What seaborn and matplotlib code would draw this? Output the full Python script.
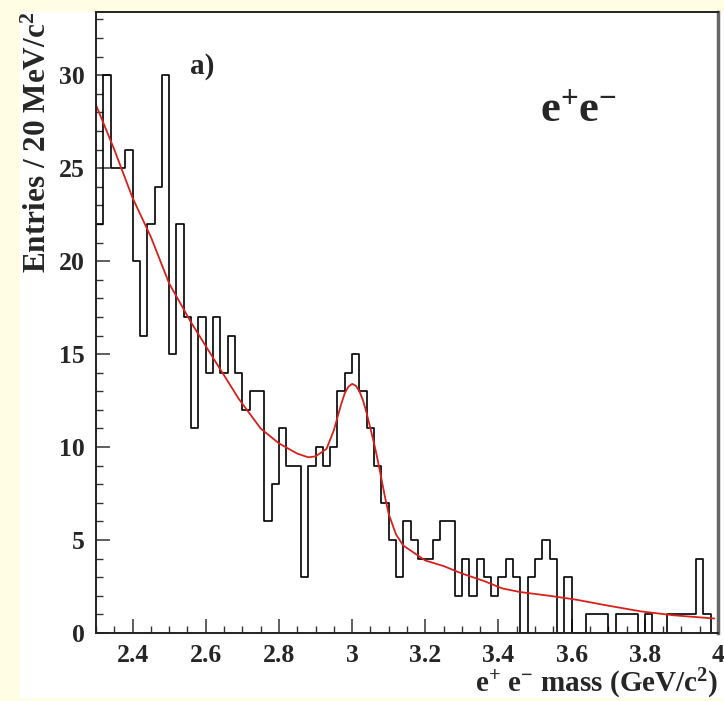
import numpy as np
import pandas as pd
import matplotlib
matplotlib.use('Agg')
import matplotlib.pyplot as plt
import seaborn as sns
from matplotlib.patches import Rectangle
from matplotlib.ticker import MultipleLocator, FuncFormatter

# histogram: 20 MeV bins from 2.30 to 4.00 GeV
mass_min, mass_max, bin_width = 2.30, 4.00, 0.02
entries = [22, 30, 25, 25, 26, 20, 16, 22, 24, 30,
           15, 22, 17, 11, 17, 14, 17, 14, 16, 14,
           12, 13, 13, 6, 8, 11, 9, 9, 3, 9,
           10, 9, 10, 13, 14, 15, 13, 11, 9, 7,
           5, 3, 6, 5, 4, 4, 5, 6, 6, 2,
           4, 2, 4, 3, 2, 3, 4, 3, 0, 3,
           4, 5, 4, 0, 3, 0, 0, 1, 1, 1,
           0, 1, 1, 1, 0, 1, 0, 0, 1, 1,
           1, 1, 4, 1, 0]

# fitted curve
fit_mass = [2.30, 2.35, 2.40, 2.45, 2.50, 2.56, 2.62, 2.69, 2.75, 2.80,
            2.85, 2.88, 2.90, 2.93, 2.95, 2.96, 2.97, 2.98, 2.99, 3.00,
            3.01, 3.02, 3.03, 3.04, 3.05, 3.06, 3.07, 3.08, 3.09, 3.10,
            3.12, 3.14, 3.17, 3.20, 3.25, 3.30, 3.36, 3.41, 3.46, 3.54,
            3.61, 3.70, 3.79, 3.88, 3.99]
fit_entries = [28.4, 26.0, 23.4, 21.3, 18.8, 16.7, 14.8, 12.6, 11.0, 10.2,
               9.65, 9.45, 9.5, 9.9, 10.9, 11.6, 12.3, 12.9, 13.25, 13.4,
               13.3, 13.0, 12.5, 11.8, 11.0, 10.2, 9.3, 8.3, 7.3, 6.4,
               5.3, 4.7, 4.3, 3.9, 3.6, 3.2, 2.8, 2.4, 2.2, 2.0,
               1.8, 1.47, 1.16, 0.95, 0.78]

edges = [round(mass_min + bin_width * i, 2) for i in range(len(entries) + 1)]
df = pd.DataFrame({'mass': [e + bin_width / 2 for e in edges[:-1]], 'entries': entries})
fit_df = pd.DataFrame({'mass': fit_mass, 'fit': fit_entries})

sns.set_style('ticks')
plt.rcParams['font.family'] = ['Liberation Serif', 'DejaVu Serif']
plt.rcParams['font.weight'] = 'bold'
plt.rcParams['mathtext.fontset'] = 'custom'
plt.rcParams['mathtext.rm'] = 'Liberation Serif:bold'
plt.rcParams['mathtext.it'] = 'Liberation Serif:bold'
plt.rcParams['mathtext.bf'] = 'Liberation Serif:bold'

fig = plt.figure(figsize=(7.24, 7.01), dpi=100, facecolor='#fffde4')
fig.patches.append(Rectangle((20 / 724, 3 / 701), 1 - 20 / 724, 686 / 701,
                             transform=fig.transFigure, facecolor='white',
                             edgecolor='none', zorder=-10))
ax = fig.add_axes([96 / 724, 68 / 701, 622 / 724, 621 / 701])
ax.set_facecolor('white')
ax.set_zorder(1)

sns.histplot(data=df, x='mass', weights='entries', bins=edges, element='step',
             fill=False, color='black', linewidth=1.2, ax=ax)
sns.lineplot(data=fit_df, x='mass', y='fit', color='#d8201c', linewidth=1.3,
             ax=ax, sort=True)

ax.set_xlim(mass_min, mass_max)
ax.set_ylim(0, 33.4)

ax.xaxis.set_major_locator(MultipleLocator(0.2))
ax.xaxis.set_minor_locator(MultipleLocator(0.05))
ax.yaxis.set_major_locator(MultipleLocator(5))
ax.yaxis.set_minor_locator(MultipleLocator(1))
ax.xaxis.set_major_formatter(FuncFormatter(lambda v, p: '{:g}'.format(round(v, 2))))
ax.tick_params(which='major', direction='in', length=10, width=1.1,
               labelsize=18.5, color='#333333', pad=8)
ax.tick_params(which='minor', direction='in', length=5, width=1.0, color='#333333')
for lab in ax.get_xticklabels() + ax.get_yticklabels():
    lab.set_fontweight('bold')

for side in ['left', 'bottom', 'top']:
    ax.spines[side].set_color('#222222')
    ax.spines[side].set_linewidth(1.4)
ax.spines['right'].set_color('#666666')
ax.spines['right'].set_linewidth(2.5)

ax.set_xlabel(r'e$^{+}$ e$^{-}$ mass (GeV/c$^{2}$)', fontsize=21,
              fontweight='bold', loc='right', labelpad=0)
ax.set_ylabel(r'Entries / 20 MeV/c$^{2}$', fontsize=22.5, fontweight='bold',
              loc='top', labelpad=4)

ax.text(0.17, 0.912, 'a)', transform=ax.transAxes, fontsize=21,
        fontweight='bold', ha='center', va='center')
ax.text(0.775, 0.842, r'e$^{+}$e$^{-}$', transform=ax.transAxes, fontsize=32,
        fontweight='bold', ha='center', va='center')

fig.savefig('out.png', dpi=100, facecolor=fig.get_facecolor())
